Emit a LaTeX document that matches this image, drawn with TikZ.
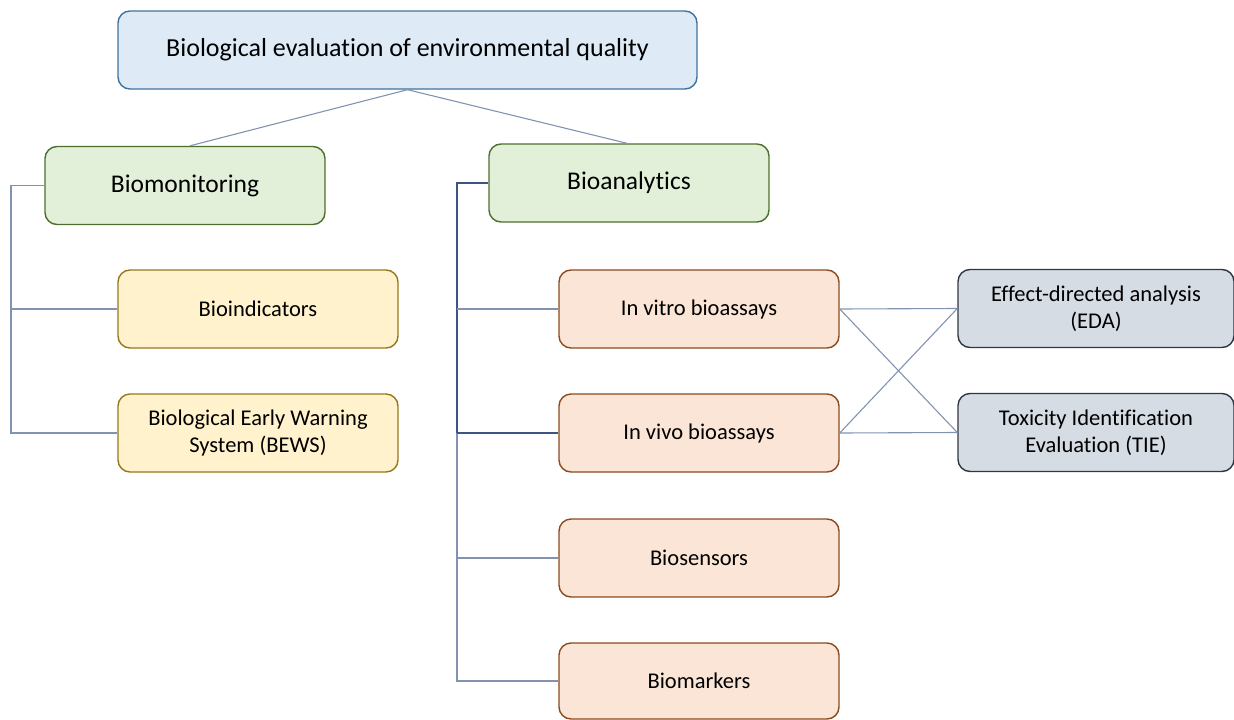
\documentclass[tikz,border=0pt]{standalone}
\usepackage{fontspec}
\setmainfont{Carlito}[Ligatures=NoCommon]
\definecolor{lnc}{HTML}{8193B0}
\definecolor{lnd}{HTML}{3E5485}
\definecolor{blF}{HTML}{DEEBF7}\definecolor{blD}{HTML}{41719C}
\definecolor{grF}{HTML}{E2F0D9}\definecolor{grD}{HTML}{4E6E2E}
\definecolor{yeF}{HTML}{FFF2CC}\definecolor{yeD}{HTML}{97781A}
\definecolor{orF}{HTML}{FBE5D6}\definecolor{orD}{HTML}{8B4A1F}
\definecolor{gyF}{HTML}{D6DCE4}\definecolor{gyD}{HTML}{2F3742}
\tikzset{
  bx/.style={draw, line width=1.4pt, rounded corners=12pt, minimum width=280pt, minimum height=78pt, align=center, inner sep=2pt},
  topbx/.style={bx, fill=blF, draw=blD, minimum width=579pt, font=\fontsize{26}{30}\selectfont},
  grbx/.style={bx, fill=grF, draw=grD, font=\fontsize{25.5}{30}\selectfont},
  yebx/.style={bx, fill=yeF, draw=yeD, font=\fontsize{22.5}{26.5}\selectfont},
  orbx/.style={bx, fill=orF, draw=orD, font=\fontsize{22.5}{26.5}\selectfont},
  gybx/.style={bx, fill=gyF, draw=gyD, minimum width=276pt, font=\fontsize{22.5}{26.5}\selectfont},
  conn/.style={draw=lnc, line width=1.1pt},
  connd/.style={draw=lnd, line width=1.1pt}
}
\begin{document}
\begin{tikzpicture}[x=1pt,y=-1pt]
\useasboundingbox (0,0) rectangle (1234,720);
\node[topbx] (top) at (407.5,50) {Biological evaluation of environmental quality};
\node[grbx] (mon) at (185,185.5) {Biomonitoring};
\node[grbx] (ana) at (629,183) {Bioanalytics};
\node[yebx] (ind) at (258,309) {Bioindicators};
\node[yebx] (bews) at (258,433) {Biological Early Warning\\System (BEWS)};
\node[orbx] (vitro) at (699,309) {In vitro bioassays};
\node[orbx] (vivo) at (699,433) {In vivo bioassays};
\node[orbx] (sens) at (699,558) {Biosensors};
\node[orbx, minimum height=76pt] (mark) at (699,681) {Biomarkers};
\node[gybx] (eda) at (1096,308.5) {Effect-directed analysis\\(EDA)};
\node[gybx] (tie) at (1096,432.5) {Toxicity Identification\\Evaluation (TIE)};
% top connectors
\draw[conn] (top.south) -- ([xshift=5pt]mon.north);
\draw[conn] (top.south) -- ([xshift=-2pt]ana.north);
% biomonitoring tree
\coordinate (m1) at (11,185.5);
\coordinate (m2) at (11,309);
\coordinate (m3) at (11,433);
\draw[conn] (mon.west) -- (m1) -- (m3) -- (bews.west);
\draw[conn] (m2) -- (ind.west);
% bioanalytics tree
\coordinate (a1) at (457,183);
\coordinate (a2) at (457,309);
\coordinate (a3) at (457,433);
\coordinate (a4) at (457,558);
\coordinate (a5) at (457,681);
\draw[connd] (ana.west) -- (a1) -- (a3);
\draw[conn] (a3) -- (a5) -- (mark.west);
\draw[conn] (a2) -- (vitro.west);
\draw[connd] (a3) -- (vivo.west);
\draw[conn] (a4) -- (sens.west);
% cross links
\draw[conn] (vitro.east) -- (eda.west);
\draw[conn] (vitro.east) -- (tie.west);
\draw[conn] (vivo.east) -- (eda.west);
\draw[conn] (vivo.east) -- (tie.west);
\end{tikzpicture}
\end{document}
